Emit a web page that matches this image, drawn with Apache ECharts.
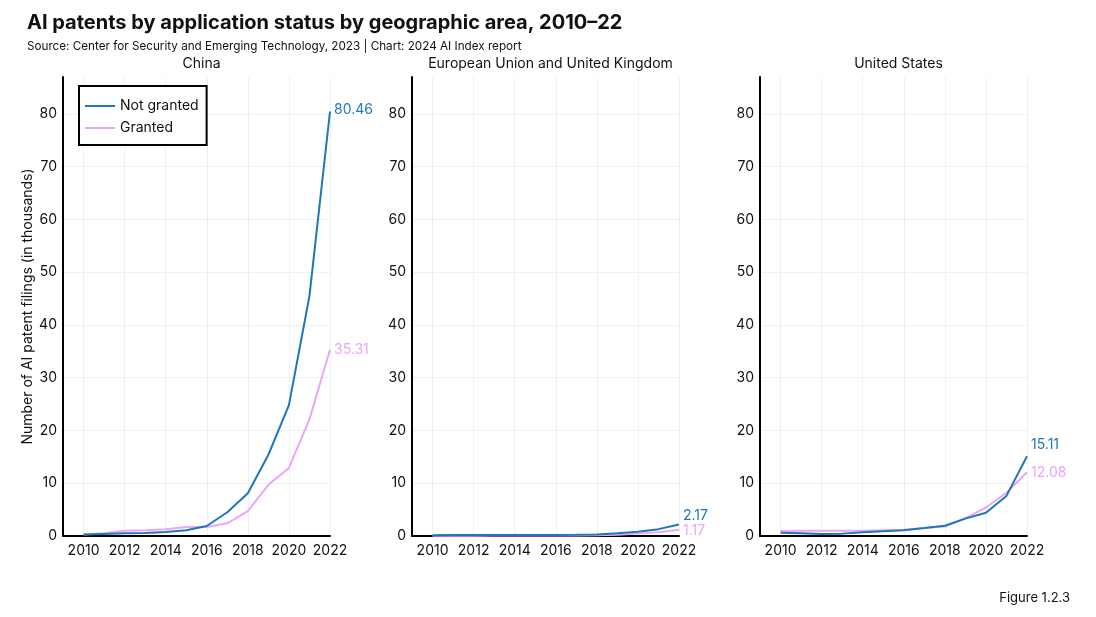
<!DOCTYPE html>
<html>
<head>
<meta charset="utf-8">
<script src="https://cdn.jsdelivr.net/npm/echarts@6/dist/echarts.min.js"></script>
<style>
html,body{margin:0;padding:0;background:#fff;}
#chart{width:1096px;height:617px;}
</style>
</head>
<body>
<div id="chart"></div>
<script>
const years = [2010,2011,2012,2013,2014,2015,2016,2017,2018,2019,2020,2021,2022];
const xTickLabels = [2010,2012,2014,2016,2018,2020,2022];
const yTickValues = [0,10,20,30,40,50,60,70,80];
const panels = ["China","European Union and United Kingdom","United States"];
const seriesNames = ["Not granted","Granted"];

const chinaNotGranted = [0.3,0.4,0.5,0.55,0.75,1.1,1.9,4.5,8.1,15.4,24.8,45.5,80.46];
const chinaGranted    = [0.3,0.5,1.0,1.1,1.3,1.7,1.7,2.4,4.7,9.7,12.9,22.1,35.31];
const euNotGranted    = [0.15,0.18,0.18,0.2,0.2,0.2,0.2,0.22,0.3,0.5,0.8,1.3,2.17];
const euGranted       = [0.05,0.06,0.07,0.08,0.08,0.09,0.1,0.1,0.15,0.25,0.45,0.7,1.17];
const usNotGranted    = [0.6,0.5,0.4,0.45,0.7,0.9,1.1,1.5,1.95,3.3,4.4,7.6,15.11];
const usGranted       = [0.95,1.0,1.0,1.0,1.0,1.1,1.2,1.5,1.8,3.4,5.4,8.2,12.08];

const BLUE = '#1f77b8';
const PINK = '#e8a8f8';
const FONT = 'Inter, "Noto Sans", sans-serif';

const pairs = vals => years.map((y,i)=>[y, vals[i]]);

const gridLefts = [63, 412, 760];
const gridW = 267;

const grids = gridLefts.map(l => ({left:l, width:gridW, top:77, bottom:81, containLabel:false}));

const xAxes = gridLefts.map((l,i)=>({
  type:'value', gridIndex:i, min:2009, max:2022,
  axisLine:{show:true, lineStyle:{color:'#000', width:2}},
  axisTick:{show:false, customValues: xTickLabels},
  axisLabel:{customValues: xTickLabels, color:'#111', fontSize:14, fontFamily:FONT, margin:8, formatter: v=>String(v)},
  splitLine:{show:true, lineStyle:{color:'#f0f0f0', width:1}}
}));

const yAxes = gridLefts.map((l,i)=>({
  type:'value', gridIndex:i, min:0, max:87,
  axisLine:{show:true, onZero:false, lineStyle:{color:'#000', width:2}},
  axisTick:{show:false, customValues: yTickValues},
  axisLabel:{customValues: yTickValues, color:'#111', fontSize:14, fontFamily:FONT, margin:6},
  splitLine:{show:true, lineStyle:{color:'#f0f0f0', width:1}},
  name: i===0 ? 'Number of AI patent filings (in thousands)' : '',
  nameLocation:'middle', nameGap:27,
  nameTextStyle:{color:'#111', fontSize:14, fontFamily:FONT}
}));

function mk(name, vals, idx, color, offset){
  return {
    name, type:'line', xAxisIndex:idx, yAxisIndex:idx,
    data: pairs(vals), symbol:'none', showSymbol:false,
    lineStyle:{color, width:2}, itemStyle:{color},
    emphasis:{disabled:true},
    endLabel:{show:true, color, fontSize:14, fontFamily:FONT, distance:4, offset,
      formatter: p => p.value[1].toFixed(2)}
  };
}

const series = [
  mk(seriesNames[1], chinaGranted, 0, PINK, [0,0]),
  mk(seriesNames[0], chinaNotGranted, 0, BLUE, [0,-2]),
  mk(seriesNames[1], euGranted, 1, PINK, [0,1]),
  mk(seriesNames[0], euNotGranted, 1, BLUE, [0,-9]),
  mk(seriesNames[1], usGranted, 2, PINK, [0,1]),
  mk(seriesNames[0], usNotGranted, 2, BLUE, [0,-11])
];

const titles = [
  {text:'AI patents by application status by geographic area, 2010–22', left:22, top:8,
   textStyle:{fontSize:20, fontWeight:'bold', color:'#111', fontFamily:FONT}},
  {text:'Source: Center for Security and Emerging Technology, 2023 | Chart: 2024 AI Index report', left:22, top:35,
   textStyle:{fontSize:11.7, fontWeight:'normal', color:'#111', fontFamily:FONT}},
  {text:'Figure 1.2.3', right:21, top:587,
   textStyle:{fontSize:13, fontWeight:'normal', color:'#111', fontFamily:FONT}}
].concat(panels.map((p,i)=>({
  text:p, left: gridLefts[i] + gridW/2, top:52, textAlign:'center',
  textStyle:{fontSize:14, fontWeight:'normal', color:'#111', fontFamily:FONT}
})));

const chart = echarts.init(document.getElementById('chart'), null, {renderer:'canvas'});
chart.setOption({
  backgroundColor:'#fff',
  animation:false,
  title: titles,
  legend:{
    data: seriesNames, orient:'vertical', left:79, top:86,
    icon:'rect', itemWidth:30, itemHeight:2,
    borderColor:'#000', borderWidth:2, borderRadius:0,
    padding:[12,8,9,6], itemGap:6,
    textStyle:{fontSize:14, color:'#111', fontFamily:FONT, lineHeight:16},
    backgroundColor:'#fff'
  },
  grid: grids,
  xAxis: xAxes,
  yAxis: yAxes,
  series
});
</script>
</body>
</html>
